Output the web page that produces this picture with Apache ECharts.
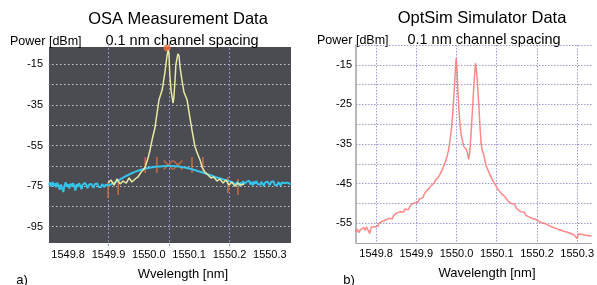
<!DOCTYPE html>
<html>
<head>
<meta charset="utf-8">
<title>OSA / OptSim</title>
<script src="https://cdn.jsdelivr.net/npm/echarts@6/dist/echarts.min.js"></script>
<style>
html,body{margin:0;padding:0;background:#fff;}
#main{width:597px;height:285px;}
</style>
</head>
<body>
<div id="main"></div>
<script type="text/javascript">
// left panel: OSA screen, [nm, dBm]
var osaAse = [
    [1549.752,-74.4],[1549.755,-73.3],[1549.758,-75.2],[1549.761,-73.0],[1549.764,-74.8],[1549.767,-73.6],
    [1549.770,-75.6],[1549.773,-73.4],[1549.776,-74.7],[1549.779,-76.8],[1549.782,-74.2],[1549.785,-73.7],
    [1549.788,-77.9],[1549.791,-74.6],[1549.794,-73.2],[1549.797,-75.3],[1549.800,-74.1],[1549.803,-76.2],
    [1549.806,-73.8],[1549.809,-75.1],[1549.812,-73.5],[1549.815,-74.9],[1549.818,-77.2],[1549.821,-74.0],
    [1549.824,-75.4],[1549.827,-73.6],[1549.830,-74.8],[1549.833,-76.5],[1549.836,-74.2],[1549.839,-75.0],
    [1549.842,-73.4],[1549.845,-74.6],[1549.848,-76.0],[1549.851,-74.3],[1549.854,-75.2],[1549.857,-73.9],
    [1549.860,-74.7],[1549.863,-75.8],[1549.866,-74.1],[1549.869,-74.9],[1549.872,-73.7],[1549.875,-75.3],
    [1549.878,-74.4],[1549.881,-75.6],[1549.884,-74.0],[1549.887,-74.8],[1549.890,-75.5],[1549.893,-74.3],
    [1549.896,-75.0],[1549.899,-74.6],
    [1549.905,-74.2],[1549.915,-73.3],[1549.925,-72.2],[1549.935,-71.0],[1549.945,-69.9],[1549.955,-68.9],
    [1549.965,-68.0],[1549.975,-67.3],[1549.985,-66.7],[1549.995,-66.2],[1550.005,-65.8],[1550.015,-65.5],
    [1550.025,-65.3],[1550.035,-65.2],[1550.045,-65.1],[1550.055,-65.1],[1550.065,-65.2],[1550.075,-65.4],
    [1550.085,-65.7],[1550.095,-66.1],[1550.105,-66.6],[1550.115,-67.2],[1550.125,-67.8],[1550.135,-68.4],
    [1550.145,-69.1],[1550.155,-69.8],[1550.165,-70.5],[1550.175,-71.1],[1550.185,-71.7],[1550.195,-72.3],
    [1550.205,-72.9],
    [1550.210,-73.6],[1550.213,-72.7],[1550.216,-74.1],[1550.219,-72.9],[1550.222,-73.8],[1550.225,-75.0],
    [1550.228,-73.2],[1550.231,-74.3],[1550.234,-72.6],[1550.237,-73.9],[1550.240,-74.8],[1550.243,-72.8],
    [1550.246,-73.5],[1550.249,-72.4],[1550.252,-74.2],[1550.255,-73.0],[1550.258,-74.6],[1550.261,-72.7],
    [1550.264,-73.8],[1550.267,-72.5],[1550.270,-74.0],[1550.273,-73.1],[1550.276,-74.4],[1550.279,-72.9],
    [1550.282,-73.7],[1550.285,-74.9],[1550.288,-73.3],[1550.291,-74.1],[1550.294,-72.8],[1550.297,-73.6],
    [1550.300,-74.5],[1550.303,-73.0],[1550.306,-73.9],[1550.309,-72.6],[1550.312,-74.3],[1550.315,-73.4],
    [1550.318,-74.7],[1550.321,-73.1],[1550.324,-73.8],[1550.327,-74.6],[1550.330,-73.2],[1550.333,-74.0],
    [1550.336,-73.5],[1550.339,-74.4],[1550.342,-73.3],[1550.345,-74.1],[1550.348,-73.6],[1550.351,-74.2]
];
var osaSignal = [
    [1549.899,-73.5],[1549.906,-72.0],[1549.914,-74.5],[1549.921,-71.5],[1549.929,-74.0],[1549.936,-72.5],
    [1549.944,-73.5],[1549.951,-71.0],[1549.958,-73.0],[1549.966,-71.5],[1549.973,-70.5],[1549.981,-68.1],
    [1549.986,-67.1],[1549.991,-65.6],[1549.998,-61.2],[1550.003,-57.2],[1550.008,-52.3],[1550.015,-46.4],
    [1550.025,-32.6],[1550.033,-27.7],[1550.040,-18.8],[1550.045,-10.9],[1550.048,-8.0],[1550.050,-10.4],
    [1550.052,-20.3],[1550.055,-27.7],[1550.060,-34.1],[1550.062,-31.6],[1550.065,-22.7],[1550.067,-15.3],
    [1550.072,-9.9],[1550.075,-10.9],[1550.077,-15.8],[1550.082,-22.7],[1550.087,-28.6],[1550.095,-32.6],
    [1550.102,-41.5],[1550.107,-47.4],[1550.114,-55.2],[1550.119,-58.2],[1550.127,-62.1],[1550.132,-65.6],
    [1550.139,-68.1],[1550.147,-69.5],[1550.154,-71.0],[1550.161,-70.5],[1550.169,-72.5],[1550.176,-71.5],
    [1550.184,-73.5],[1550.191,-72.0],[1550.199,-74.5],[1550.206,-73.0],[1550.213,-75.0],[1550.221,-73.5],
    [1550.228,-74.5],[1550.236,-74.0]
];
// marker ticks and crosses drawn by the OSA
var osaTicks = [
    [1549.899,-76.9],[1549.924,-75.4],[1549.991,-64.6],[1550.020,-64.6],
    [1550.107,-64.6],[1550.134,-64.6],[1550.196,-74.5],[1550.221,-75.4]
];
var osaCrosses = [[1550.048,-64.6],[1550.072,-64.6]];
var osaPeak = [[1550.045,-7.0]];

// right panel: OptSim trace, [nm, dBm]
var simTrace = [
    [1549.748,-57.2],[1549.753,-56.5],[1549.757,-57.4],[1549.761,-56.6],[1549.765,-56.9],[1549.769,-56.1],
    [1549.773,-56.8],[1549.776,-55.9],[1549.780,-56.4],[1549.784,-57.6],[1549.788,-56.0],[1549.792,-55.5],
    [1549.796,-55.9],[1549.800,-55.4],[1549.804,-55.8],[1549.808,-54.9],[1549.812,-55.3],[1549.816,-54.5],
    [1549.820,-54.9],[1549.824,-54.2],[1549.828,-54.6],[1549.832,-53.8],[1549.836,-53.4],[1549.840,-53.9],
    [1549.844,-53.0],[1549.848,-53.3],[1549.852,-52.4],[1549.856,-52.9],[1549.860,-52.1],[1549.864,-51.7],
    [1549.868,-52.2],[1549.872,-51.4],[1549.876,-51.0],[1549.880,-51.6],[1549.884,-50.8],[1549.888,-50.2],
    [1549.892,-50.6],[1549.896,-49.9],[1549.900,-49.4],[1549.904,-49.7],[1549.908,-48.8],[1549.912,-48.3],
    [1549.916,-48.6],[1549.920,-47.6],[1549.924,-47.0],[1549.928,-47.3],[1549.932,-46.2],[1549.936,-45.6],
    [1549.940,-45.9],[1549.944,-44.9],[1549.948,-44.1],[1549.952,-44.4],[1549.956,-43.2],[1549.960,-42.4],
    [1549.964,-41.6],[1549.968,-40.6],[1549.972,-39.5],[1549.976,-38.3],[1549.980,-36.6],[1549.984,-34.0],
    [1549.988,-30.5],[1549.991,-26.5],[1549.994,-22.0],[1549.997,-16.5],[1549.999,-13.3],[1550.001,-15.5],
    [1550.003,-21.0],[1550.006,-26.5],[1550.009,-30.5],[1550.012,-33.0],[1550.015,-34.2],[1550.018,-35.6],
    [1550.021,-35.1],[1550.024,-36.4],[1550.027,-37.2],[1550.030,-38.9],[1550.033,-37.0],[1550.036,-32.5],
    [1550.039,-27.5],[1550.042,-22.0],[1550.045,-17.5],[1550.047,-14.6],[1550.049,-15.8],[1550.052,-19.5],
    [1550.055,-24.5],[1550.058,-30.0],[1550.061,-34.8],[1550.064,-36.6],[1550.067,-37.5],[1550.070,-38.9],
    [1550.073,-40.4],[1550.076,-41.0],[1550.080,-42.1],[1550.084,-42.6],[1550.088,-43.8],[1550.092,-44.6],
    [1550.096,-45.0],[1550.100,-45.9],[1550.104,-46.6],[1550.108,-46.9],[1550.112,-47.6],[1550.116,-47.4],
    [1550.120,-48.3],[1550.124,-48.6],[1550.128,-49.4],[1550.132,-49.1],[1550.136,-50.0],[1550.140,-50.4],
    [1550.144,-50.2],[1550.148,-51.0],[1550.152,-51.6],[1550.156,-51.3],[1550.160,-52.1],[1550.164,-52.5],
    [1550.168,-52.2],[1550.172,-53.0],[1550.176,-52.8],[1550.180,-53.4],[1550.184,-53.2],[1550.188,-53.8],
    [1550.192,-53.5],[1550.196,-54.0],[1550.200,-53.7],[1550.204,-54.5],[1550.208,-54.3],[1550.212,-54.9],
    [1550.216,-54.6],[1550.220,-55.1],[1550.224,-54.9],[1550.228,-55.5],[1550.232,-55.2],[1550.236,-55.9],
    [1550.240,-55.6],[1550.244,-56.2],[1550.248,-55.9],[1550.252,-56.5],[1550.256,-56.2],[1550.260,-56.8],
    [1550.264,-56.5],[1550.268,-57.1],[1550.272,-56.8],[1550.276,-57.3],[1550.280,-57.0],[1550.284,-57.6],
    [1550.288,-57.4],[1550.292,-57.9],[1550.296,-57.6],[1550.300,-58.9],[1550.303,-57.7],[1550.306,-58.2],
    [1550.310,-57.8],[1550.314,-58.3],[1550.318,-58.0],[1550.322,-58.4],[1550.326,-58.1],[1550.330,-58.5],
    [1550.336,-58.3]
];

// tick labels
var xTickLabels = [1549.8, 1549.9, 1550.0, 1550.1, 1550.2, 1550.3];
var osaYLabels = [-15, -35, -55, -75, -95];
var simYLabels = [-15, -25, -35, -45, -55];

var FONT = 'Liberation Sans, Arial, sans-serif';

function pick(list, digits) {
    return function (v) {
        for (var i = 0; i < list.length; i++) {
            if (Math.abs(v - list[i]) < 1e-6) return list[i].toFixed(digits);
        }
        return '';
    };
}

var myChart = echarts.init(document.getElementById('main'));
var gridDot = '#9c9cd6';

myChart.setOption({
    animation: false,
    grid: [
        {left: 48, top: 44, width: 242, height: 203},
        {left: 356, top: 45, width: 241, height: 198}
    ],
    xAxis: [
        {   // OSA labels
            gridIndex: 0, type: 'value', min: 1549.75, max: 1550.35, interval: 0.05,
            axisLine: {show: false}, axisTick: {show: false}, splitLine: {show: false},
            axisLabel: {formatter: pick(xTickLabels, 1), fontSize: 11, color: '#000', fontFamily: FONT, margin: 2}
        },
        {   // OSA screen divisions
            gridIndex: 0, type: 'value', min: 1549.75, max: 1550.35, interval: 0.15,
            axisLine: {show: false}, axisTick: {show: false}, axisLabel: {show: false},
            splitLine: {show: true, lineStyle: {color: ['transparent', '#8e8ed2', '#8e8ed2', '#8e8ed2'], type: [2, 2], width: 1}}
        },
        {   // OptSim
            gridIndex: 1, type: 'value', min: 1549.75, max: 1550.336, interval: 0.05,
            axisLine: {show: true, lineStyle: {color: '#a4a4b4', width: 1}},
            axisTick: {show: false},
            axisLabel: {formatter: pick(xTickLabels, 1), fontSize: 11, color: '#000', fontFamily: FONT, margin: 5},
            splitLine: {show: true, lineStyle: {color: ['transparent', gridDot], type: [1.5, 1.5], width: 1}}
        }
    ],
    yAxis: [
        {
            gridIndex: 0, type: 'value', min: -105, max: -5, interval: 10,
            axisLine: {show: false}, axisTick: {show: false},
            axisLabel: {formatter: pick(osaYLabels, 0), fontSize: 11, color: '#000', fontFamily: FONT, margin: 5},
            splitLine: {show: true, lineStyle: {
                color: ['transparent', '#c8c8d2', '#c8c8d2', '#c8c8d2', '#c8c8d2', '#c8c8d2', '#c8c8d2', '#c8c8d2', '#c8c8d2', '#c8c8d2'],
                type: [1.5, 2.5], width: 1}}
        },
        {
            gridIndex: 1, type: 'value', min: -60, max: -10, interval: 5,
            axisLine: {show: true, lineStyle: {color: '#a0a0a0', width: 1.5}},
            axisTick: {show: false},
            axisLabel: {formatter: pick(simYLabels, 0), fontSize: 11, color: '#000', fontFamily: FONT, margin: 4},
            splitLine: {show: true, lineStyle: {color: gridDot, type: [1.5, 1.5], width: 1}}
        }
    ],
    graphic: {
        elements: [
            {type: 'rect', z: -10, shape: {x: 49, y: 47, width: 242, height: 196}, style: {fill: '#4b4b52'}},
            {type: 'text', x: 178, y: 19, style: {text: 'OSA Measurement Data', font: '16.5px ' + FONT, fill: '#000', textAlign: 'center', textVerticalAlign: 'middle'}},
            {type: 'text', x: 482, y: 18, style: {text: 'OptSim Simulator Data', font: '16.5px ' + FONT, fill: '#000', textAlign: 'center', textVerticalAlign: 'middle'}},
            {type: 'text', x: 10, y: 42, style: {text: 'Power [dBm]', font: '12.5px ' + FONT, fill: '#000', textAlign: 'left', textVerticalAlign: 'middle'}},
            {type: 'text', x: 317, y: 41, style: {text: 'Power [dBm]', font: '12.5px ' + FONT, fill: '#000', textAlign: 'left', textVerticalAlign: 'middle'}},
            {type: 'text', x: 182, y: 41, style: {text: '0.1 nm channel spacing', font: '14.5px ' + FONT, fill: '#000', textAlign: 'center', textVerticalAlign: 'middle'}},
            {type: 'text', x: 484, y: 40, style: {text: '0.1 nm channel spacing', font: '14.5px ' + FONT, fill: '#000', textAlign: 'center', textVerticalAlign: 'middle'}},
            {type: 'text', x: 183, y: 274, style: {text: 'Wvelength [nm]', font: '13px ' + FONT, fill: '#000', textAlign: 'center', textVerticalAlign: 'middle'}},
            {type: 'text', x: 487, y: 273, style: {text: 'Wavelength [nm]', font: '13px ' + FONT, fill: '#000', textAlign: 'center', textVerticalAlign: 'middle'}},
            {type: 'text', x: 22, y: 280, style: {text: 'a)', font: '13px ' + FONT, fill: '#000', textAlign: 'center', textVerticalAlign: 'middle'}},
            {type: 'text', x: 349, y: 280, style: {text: 'b)', font: '13px ' + FONT, fill: '#000', textAlign: 'center', textVerticalAlign: 'middle'}}
        ]
    },
    series: [
        {
            name: 'ASE', type: 'line', xAxisIndex: 0, yAxisIndex: 0, data: osaAse,
            showSymbol: false, lineStyle: {color: '#36c3ea', width: 2}
        },
        {
            name: 'OSA', type: 'line', xAxisIndex: 0, yAxisIndex: 0, data: osaSignal,
            showSymbol: false, lineStyle: {color: '#e6e9a2', width: 1.5}
        },
        {
            name: 'ticks', type: 'scatter', xAxisIndex: 0, yAxisIndex: 0, data: osaTicks,
            symbol: 'rect', symbolSize: [1.5, 16], itemStyle: {color: '#e3763e'}
        },
        {
            name: 'crosses', type: 'scatter', xAxisIndex: 0, yAxisIndex: 0, data: osaCrosses,
            symbol: 'path://M0,1L1,0L10,9L9,10ZM9,0L10,1L1,10L0,9Z', symbolSize: 10, itemStyle: {color: '#e3763e'}
        },
        {
            name: 'peak', type: 'scatter', xAxisIndex: 0, yAxisIndex: 0, data: osaPeak,
            symbol: 'circle', symbolSize: 7, itemStyle: {color: '#f07038'}
        },
        {
            name: 'OptSim', type: 'line', xAxisIndex: 2, yAxisIndex: 1, data: simTrace,
            showSymbol: false, lineStyle: {color: '#ff7b7b', width: 1.5, opacity: 0.9}
        }
    ]
});
</script>
</body>
</html>
